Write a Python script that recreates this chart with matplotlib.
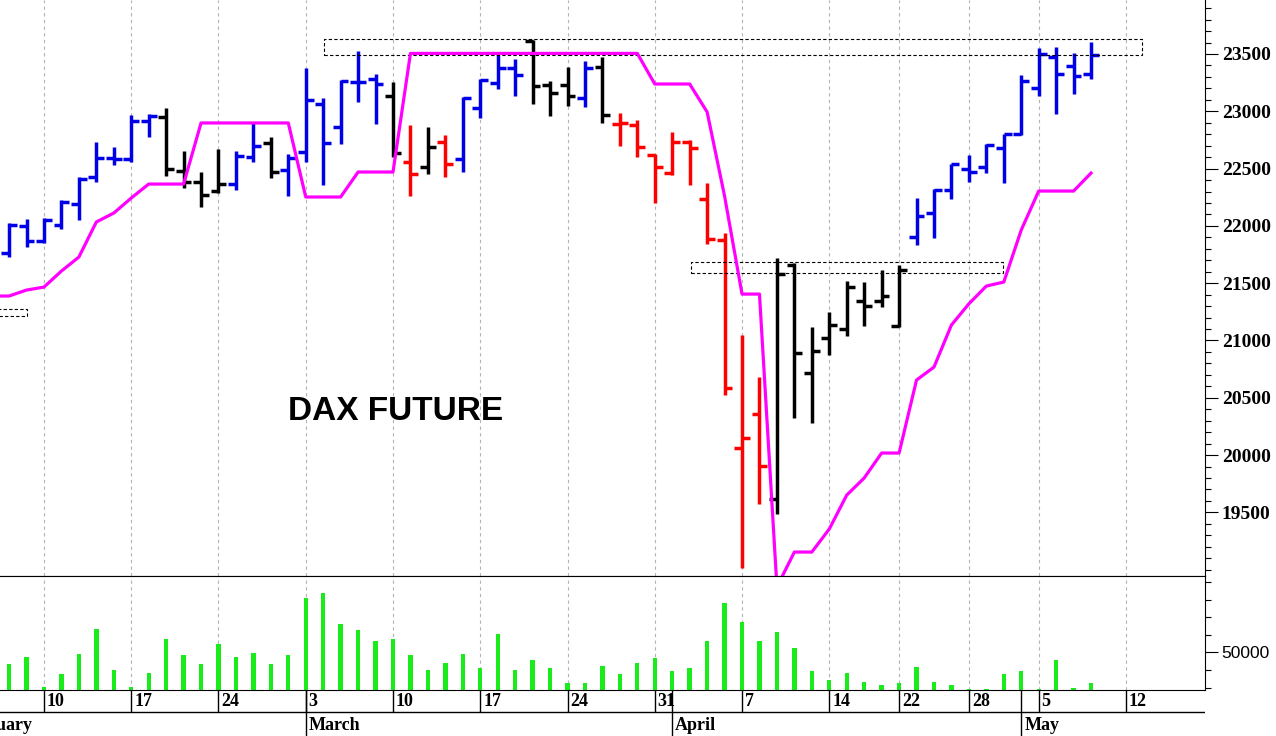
import matplotlib
matplotlib.use('Agg')
import matplotlib.pyplot as plt
import matplotlib.patches as mpatches
from matplotlib.ticker import MultipleLocator
import numpy as np

# ---------------------------------------------------------------------------
# Data — trading-day index, 0 = Mon 10 Feb; Easter (18/21 Apr) and 1 May are
# holidays, so they have no slot
# ---------------------------------------------------------------------------
idx = np.arange(-2, 61)

opens = [21763, 21999, 21868, 22007, 22191, 22426, 22592, 22583, 22915, 22950,
         22479, 22383, 22304, 22365, 22601, 22723, 22487, 22644, 23063, 22863,
         23255, 23282, 23133, 22557, 22514, 22732, 22583, 23028, 23247, 23378,
         23613, 23229, 23229, 23116, 23386, 22889, 22880, 22618, 22461, 22732,
         22234, 21877, 20061, 20358, 19616, 21658, 20716, 21021, 21100, 21344,
         21344, 21126, 21903, 22112, 22313, 22496, 22514, 22679, 22802, 23203,
         23474, 23395, 23325]
highs = [22025, 22060, 22069, 22226, 22426, 22732, 22688, 22967, 22976, 23028,
         22653, 22470, 22671, 22653, 22906, 22775, 22627, 23378, 23116, 23273,
         23526, 23325, 23255, 22880, 22863, 22793, 23124, 23282, 23491, 23456,
         23622, 23264, 23386, 23439, 23474, 22985, 22924, 22627, 22819, 22749,
         22374, 21938, 21047, 20681, 21719, 21676, 21117, 21248, 21519, 21510,
         21615, 21658, 22243, 22322, 22540, 22618, 22714, 22802, 23316, 23552,
         23561, 23508, 23604]
lows = [21728, 21815, 21850, 21973, 22051, 22383, 22531, 22557, 22775, 22435,
        22330, 22165, 22287, 22313, 22557, 22418, 22261, 22557, 22356, 22714,
        23081, 22889, 22601, 22261, 22453, 22426, 22470, 22941, 23194, 23133,
        23063, 22959, 23046, 23037, 22898, 22697, 22601, 22199, 22444, 22356,
        21842, 20524, 19014, 19573, 19485, 20323, 20279, 20873, 21039, 21126,
        21292, 21117, 21833, 21894, 22234, 22383, 22461, 22374, 22793, 23133,
        22976, 23151, 23282]
closes = [22007, 21868, 22051, 22208, 22409, 22592, 22583, 22915, 22959, 22496,
          22383, 22269, 22365, 22610, 22697, 22470, 22592, 23098, 22723, 23264,
          23255, 23238, 22636, 22453, 22688, 22540, 23116, 23273, 23378, 23316,
          23220, 23159, 23133, 23378, 22967, 22898, 22688, 22514, 22732, 22679,
          21885, 20585, 20149, 19904, 21580, 20890, 20908, 21135, 21466, 21301,
          21388, 21615, 22086, 22313, 22540, 22470, 22706, 22802, 23264, 23500,
          23325, 23308, 23491]
trend = list('bbbbbbbbbkkkkbbkbbbbbbkrkrbbbbkkkbkrrrrrrrrrkkkkkkkkbbbbbbbbbbb')

# trailing stop starts one day earlier (runs off the left edge)
stop_idx = np.arange(-3, 61)
stop_line = [21388,
             21388, 21440, 21466, 21606, 21728, 22034, 22112, 22243, 22365, 22365,
             22365, 22898, 22898, 22898, 22898, 22898, 22898, 22252, 22252, 22252,
             22470, 22470, 22470, 23505, 23505, 23505, 23505, 23505, 23505, 23505,
             23505, 23505, 23505, 23505, 23505, 23505, 23505, 23238, 23238, 23238,
             22994, 22260, 21405, 21405, 18850, 19154, 19154, 19355, 19651, 19800,
             20018, 20018, 20655, 20768, 21135, 21320, 21475, 21510, 21964, 22304,
             22304, 22304, 22461]

volume = [43500, 47500, 30400, 37700, 49300, 63100, 40000, 30400, 38300, 57300,
          48300, 43500, 55000, 47500, 49800, 43500, 48300, 80600, 83900, 66000,
          62700, 56500, 57500, 48300, 40000, 44100, 49300, 41200, 60200, 40200,
          45800, 41200, 32500, 32500, 42500, 37700, 43800, 46700, 39600, 40900,
          56500, 78200, 67200, 56500, 61700, 52500, 39200, 34400, 38400, 33400,
          31700, 32300, 41500, 33400, 31700, 29400, 29400, 37500, 39200, 29400,
          45800, 29600, 32700]

# dotted resistance / support zones
zone_left = [-3.0, 16.05, 37.1]
zone_right = [-0.97, 62.9, 54.96]
zone_low = [21213, 23491, 21589]
zone_high = [21274, 23631, 21685]

week_starts = [0, 5, 10, 15, 20, 25, 30, 35, 40, 45, 49, 53, 57, 62]
day_labels = ['10', '17', '24', '3', '10', '17', '24', '31', '7', '14', '22',
              '28', '5', '12']
month_starts = [-5, 15, 36, 56]
month_labels = ['February', 'March', 'April', 'May']

PRICE_LIM = (18945, 23971)
VOL_LIM = (28600, 93350)

C_TREND = {'b': '#0000e6', 'k': 'black', 'r': '#ff0000'}
C_STOP = '#ff00ff'
C_VOL = '#1aeb1a'
C_GRID = '#b4b4b4'
SERIF = 'Liberation Serif'

# ---------------------------------------------------------------------------
# Layout (pixel boxes -> figure fractions)
# ---------------------------------------------------------------------------
W, H = 1276, 736


def box(x0, y0, x1, y1):
    return [x0 / W, 1 - y1 / H, (x1 - x0) / W, (y1 - y0) / H]


fig = plt.figure(figsize=(W / 100, H / 100), dpi=100)
ax = fig.add_axes(box(0, 0, 1205, 576))
axv = fig.add_axes(box(0, 576, 1205, 690), sharex=ax)
axd = fig.add_axes(box(0, 690, 1205, 736), sharex=ax)
ax.set_xlim(-2.52, 66.53)

for a in (ax, axv):
    for g in week_starts:
        a.axvline(g, color=C_GRID, ls=(0, (3, 3)), lw=0.8, zorder=0)
    a.spines['left'].set_visible(False)
    a.tick_params(axis='x', bottom=False, labelbottom=False)
ax.spines['top'].set_visible(False)

# ---------------------------------------------------------------------------
# Price panel
# ---------------------------------------------------------------------------
cols = [C_TREND[t] for t in trend]
ax.vlines(idx, lows, highs, colors=cols, lw=2.5, zorder=2)
ax.hlines(opens, idx - 0.45, idx, colors=cols, lw=2.5, zorder=2)
ax.hlines(closes, idx, idx + 0.45, colors=cols, lw=2.5, zorder=2)
ax.plot(stop_idx, stop_line, color=C_STOP, lw=2.3, zorder=4)

for x0, x1, lo, hi in zip(zone_left, zone_right, zone_low, zone_high):
    ax.add_patch(mpatches.Rectangle((x0, lo), x1 - x0, hi - lo, fill=False,
                                    ec='black', lw=0.8, ls=(0, (3, 2)), zorder=3))

ax.set_ylim(*PRICE_LIM)
ax.yaxis.tick_right()
ax.set_yticks(np.arange(19500, 24000, 500))
ax.yaxis.set_minor_locator(MultipleLocator(100))
ax.tick_params(axis='y', which='major', length=9, width=0.8, pad=3, labelsize=14)
ax.tick_params(axis='y', which='minor', length=4, width=0.8)
for lab in ax.get_yticklabels():
    lab.set_fontfamily(SERIF)
    lab.set_fontweight('bold')

ax.text(0.239, 1 - 412 / 576, 'DAX FUTURE', transform=ax.transAxes,
        fontsize=24, fontweight='bold', family='Liberation Sans', va='center')

# ---------------------------------------------------------------------------
# Volume panel
# ---------------------------------------------------------------------------
vol = np.array(volume)
axv.bar(idx, vol - VOL_LIM[0], bottom=VOL_LIM[0], width=0.25, color=C_VOL, zorder=2)
axv.set_ylim(*VOL_LIM)
axv.yaxis.tick_right()
axv.set_yticks([50000])
axv.yaxis.set_minor_locator(MultipleLocator(10000))
axv.tick_params(axis='y', which='major', length=9, width=0.8, pad=3, labelsize=12.5,
                labelfontfamily='Liberation Sans')
axv.tick_params(axis='y', which='minor', length=4, width=0.8)

# ---------------------------------------------------------------------------
# Date strip
# ---------------------------------------------------------------------------
axd.set_ylim(0, 46)
axd.axis('off')
axd.axhline(24, color='black', lw=1)
axd.vlines(week_starts, 24, 46, color='black', lw=1)
axd.vlines(month_starts, 0, 46, color='black', lw=1)
for g, lab in zip(week_starts, day_labels):
    axd.text(g + 0.17, 35, lab, ha='left', va='center', fontsize=13,
             family=SERIF, fontweight='bold')
for m, lab in zip(month_starts, month_labels):
    axd.text(m + 0.17, 10.5, lab, ha='left', va='center', fontsize=13,
             family=SERIF, fontweight='bold')

fig.savefig('out.png', dpi=100)
